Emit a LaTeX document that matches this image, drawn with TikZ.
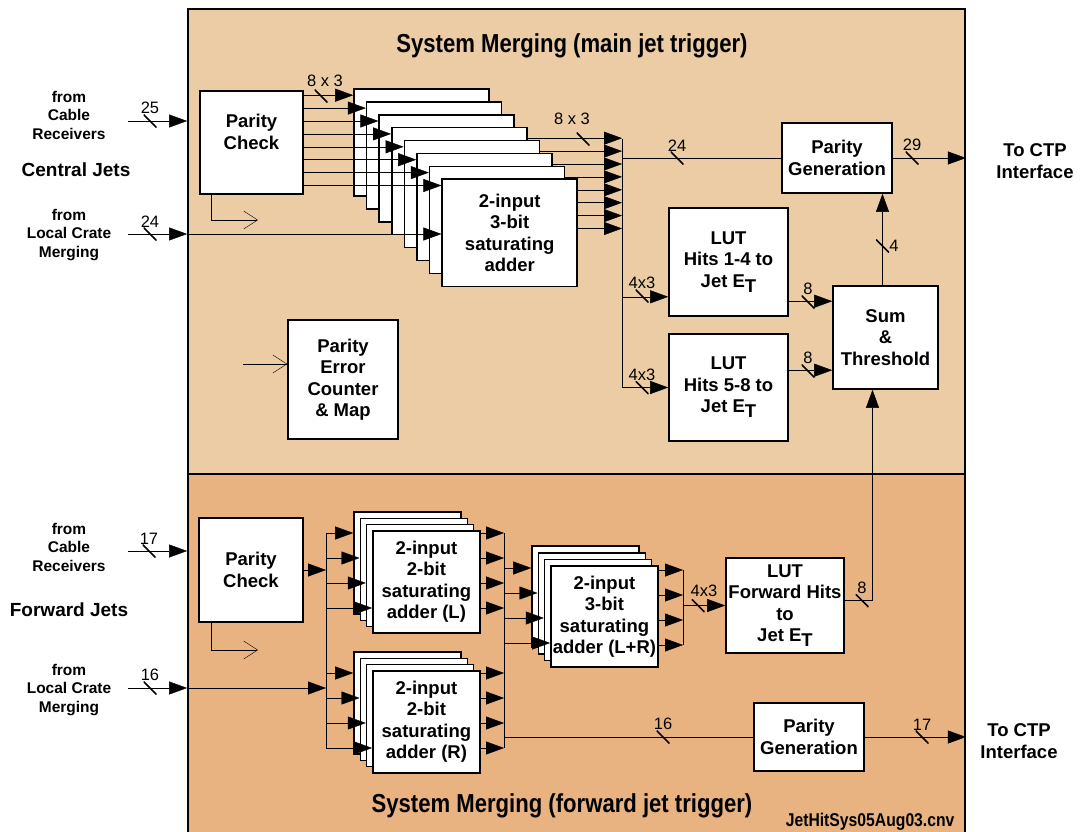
\documentclass[tikz,border=0pt]{standalone}
\usepackage{fontspec}
\setmainfont{Liberation Sans}
\newfontfamily\narrowsf{Liberation Sans}[FakeStretch=0.85]
\usetikzlibrary{arrows.meta, positioning}
\definecolor{maintan}{RGB}{235,204,165}
\definecolor{fwdtan}{RGB}{233,178,129}
\pgfdeclarelayer{panel}
\pgfdeclarelayer{under}
\pgfsetlayers{panel,under,main}
\newcommand{\ET}{E\raisebox{-5pt}{T}}

\begin{document}
\begin{tikzpicture}[
  x=1pt, y=-1pt, line width=1.6pt,
  >={Triangle[length=18pt, width=13pt]},
  opn/.style={-{Straight Barb[length=14pt, width=18pt]}},
  panel/.style={draw, line width=1.8pt, inner sep=0pt},
  box/.style={draw, fill=white, line width=1.6pt, align=center, inner sep=0pt,
              font=\bfseries\fontsize{18.5}{21.5}\selectfont},
  src/.style={align=center, font=\bfseries\fontsize{15.5}{18.5}\selectfont},
  grp/.style={font=\bfseries\fontsize{19}{22}\selectfont},
  ctp/.style={align=center, font=\bfseries\fontsize{18.5}{22}\selectfont},
  ttl/.style={font=\narrowsf\bfseries\fontsize{26}{28}\selectfont},
  tick/.style={inner sep=0pt, minimum size=13pt, label distance=4pt,
               path picture={\draw[line width=1.5pt] (path picture bounding box.north west)
                             -- (path picture bounding box.south east);}},
  every label/.style={font=\fontsize{16.5}{16.5}\selectfont, inner sep=0pt}
]
\useasboundingbox (0,0) rectangle (1080,832);

\begin{pgfonlayer}{panel}
\node[panel, fill=maintan, minimum width=777pt, minimum height=465pt] (ptop) at (576.5,241.5) {};
\node[panel, fill=fwdtan, minimum width=777pt, minimum height=372pt] (pbot) at (576.5,660) {};
\end{pgfonlayer}

% titles and side labels
\node[ttl] (ttop) at (572,46) {System Merging (main jet trigger)};
\node[ttl] (tbot) at (562,806) {System Merging (forward jet trigger)};
\node[font=\narrowsf\bfseries\fontsize{18.5}{20}\selectfont, anchor=east] (fname) at (958,822) {JetHitSys05Aug03.cnv};

\node[src] (cab1) at (69,115) {from\\Cable\\Receivers};
\node[grp] (cjet) at (76,170) {Central Jets};
\node[src] (lcm1) at (69,235) {from\\Local Crate\\Merging};
\node[src] (cab2) at (69,547) {from\\Cable\\Receivers};
\node[grp] (fjet) at (69,610) {Forward Jets};
\node[src] (lcm2) at (69,690) {from\\Local Crate\\Merging};
\node[ctp] (ctp1) at (1035,161) {To CTP\\Interface};
\node[ctp] (ctp2) at (1019,741) {To CTP\\Interface};

% main jet trigger
\node[box, minimum width=103pt, minimum height=103pt] (pc1) at (251.5,142.5) {Parity\\Check\\\mbox{}};
\node[box, minimum width=110pt, minimum height=119pt] (pec) at (343,379.5) {Parity\\Error\\Counter\\\& Map};
\foreach \k in {0,...,6}
  \node[box, minimum width=135pt, minimum height=107pt] (add\k) at ({421.5+12.6*\k},{142.5+12.9*\k}) {};
\node[box, minimum width=135pt, minimum height=107pt] (add7) at (509.7,232.8) {2-input\\3-bit\\saturating\\adder};
\node[box, minimum width=110pt, minimum height=70pt] (pg1) at (837,158) {Parity\\Generation};
\node[box, minimum width=119pt, minimum height=108pt] (lut1) at (728.5,262) {LUT\\Hits 1-4 to\\Jet \ET};
\node[box, minimum width=119pt, minimum height=107pt] (lut2) at (728.5,387.5) {LUT\\Hits 5-8 to\\Jet \ET};
\node[box, minimum width=105pt, minimum height=103pt] (sum) at (885.5,337.5) {Sum\\\&\\Threshold};

% forward jet trigger
\node[box, minimum width=104pt, minimum height=104pt] (pc2) at (251,570) {Parity\\Check};
\foreach \k in {0,...,2} {
  \node[box, minimum width=107pt, minimum height=102pt] (addL\k) at ({407.5+6.3*\k},{563+6.3*\k}) {};
}
\node[box, minimum width=107pt, minimum height=102pt] (addL3) at (426.4,581.9) {2-input\\2-bit\\saturating\\adder (L)};
\foreach \k in {0,...,2} {
  \node[box, minimum width=107pt, minimum height=102pt] (addR\k) at ({407.5+6.3*\k},{703+6.3*\k}) {};
}
\node[box, minimum width=107pt, minimum height=102pt] (addR3) at (426.4,721.9) {2-input\\2-bit\\saturating\\adder (R)};
\foreach \k in {0,...,2} {
  \node[box, minimum width=107pt, minimum height=101pt] (addLR\k) at ({585.5+6.3*\k},{596.5+6.7*\k}) {};
}
\node[box, minimum width=107pt, minimum height=101pt] (addLR3) at (604.4,616.6) {2-input\\3-bit\\saturating\\adder (L+R)};
\node[box, minimum width=118pt, minimum height=95pt] (lutf) at (785,605.5) {LUT\\Forward Hits\\to\\Jet \ET};
\node[box, minimum width=110pt, minimum height=68pt] (pg2) at (809,737) {Parity\\Generation};

\coordinate (in1) at (128,121);
\coordinate (in2) at (128,234);
\coordinate (in3) at (128,551);
\coordinate (in4) at (128,688);
\coordinate (bus1) at (622,139);
\coordinate (bus2) at (326,533);
\coordinate (bus3) at (504,533);
\coordinate (bus4) at (683,570);
\coordinate (perin) at (243,364);
\coordinate (pcout1) at (258,220);
\coordinate (pcout2) at (258,650);

% main connectors
\draw[->] (in1) -- (in1 -| ptop.west);
\draw[->] (in2) -- (in2 -| ptop.west);
\draw[->] (in2 -| ptop.west) -- (in2 -| add7.west);
\foreach \k in {0,...,7} {
  \coordinate (a\k) at ([yshift=-7pt]add\k.north west);
  \draw[->] (pc1.east |- a\k) -- (a\k);
}
\begin{pgfonlayer}{under}
\foreach \j in {0,...,7} {
  \coordinate (o\j) at ([yshift=-50pt]add\j.north east);
  \draw[->] (o\j) -- (o\j -| bus1);
}
\end{pgfonlayer}
\draw (bus1) -- (bus1 |- lut2.west);
\draw (bus1 |- pg1.west) -- (pg1.west);
\coordinate (l1in) at ([yshift=20pt]lut1.south west);
\draw[->] (bus1 |- l1in) -- (l1in);
\draw[->] (bus1 |- lut2.west) -- (lut2.west);
\draw[->] (pg1.east) -- (pg1.east -| ptop.east);
\coordinate (s1in) at ([yshift=-16pt]sum.north west);
\coordinate (s2in) at ([yshift=-85pt]sum.north west);
\draw[->] (lut1.east |- s1in) -- (s1in);
\draw[->] (lut2.east |- s2in) -- (s2in);
\coordinate (sumtop) at ([xshift=-3pt]sum.north);
\coordinate (sumbot) at ([xshift=-13pt]sum.south);
\coordinate (lfout) at ([yshift=5pt]lutf.east);
\draw[->] (sumtop) -- (sumtop |- pg1.south);
\draw[->] (lfout) -| (sumbot);
\draw[opn] ([xshift=12pt]pc1.south west) |- (pcout1);
\draw[opn] (perin) -- (perin -| pec.west);

% forward connectors
\draw[->] (in3) -- (in3 -| pbot.west);
\draw[->] (in4) -- (in4 -| pbot.west);
\draw[->] (in4 -| pbot.west) -- (in4 -| bus2);
\draw[->] (pc2.east) -- (pc2.east -| bus2);
\draw (bus2) -- ++(0,215);
\foreach \k/\y in {0/533,1/558,2/583,3/608}
  \draw[->] (bus2 |- 0,\y) -- (addL\k.west |- 0,\y);
\foreach \k/\y in {0/673,1/698,2/723,3/748}
  \draw[->] (bus2 |- 0,\y) -- (addR\k.west |- 0,\y);
\foreach \y in {533,558,583,608}
  \draw[->] (addL3.east |- 0,\y) -- (bus3 |- 0,\y);
\foreach \y in {673,698,723,748}
  \draw[->] (addR3.east |- 0,\y) -- (bus3 |- 0,\y);
\draw (bus3) -- ++(0,215);
\foreach \k/\y in {0/568,1/593,2/618,3/643}
  \draw[->] (bus3 |- 0,\y) -- (addLR\k.west |- 0,\y);
\foreach \y in {570,595,620,645}
  \draw[->] (addLR3.east |- 0,\y) -- (bus4 |- 0,\y);
\draw (bus4) -- ++(0,75);
\draw[->] (bus4 |- lutf.west) -- (lutf.west);
\draw (bus3 |- pg2.west) -- (pg2.west);
\draw[->] (pg2.east) -- (pg2.east -| pbot.east);
\draw[opn] ([xshift=13pt]pc2.south west) |- (pcout2);

% bus widths
\node[tick, label=above:25] (k1) at (150,121) {};
\node[tick, label=above:24] (k2) at (150,234) {};
\node[tick, label={[xshift=4pt, yshift=2pt]above:8 x 3}] (k3) at (321,96) {};
\node[tick, label={[xshift=-11pt, yshift=7pt]above:8 x 3}] (k4) at (583,139) {};
\node[tick, label=above:24] (k5) at (677,158) {};
\node[tick, label=above:29] (k6) at (912,158) {};
\node[tick, label=above:4x3] (k7) at (642,296) {};
\node[tick, label=above:4x3] (k8) at (642,387.5) {};
\node[tick, label=above:8] (k9) at (808,302) {};
\node[tick, label=above:8] (k10) at (808,371) {};
\node[tick, label=right:4] (k11) at (882.5,246) {};
\node[tick, label=above:8] (k12) at (862,600.5) {};
\node[tick, label=above:17] (k13) at (149,551) {};
\node[tick, label=above:16] (k14) at (150,688) {};
\node[tick, label=above:16] (k15) at (663,737) {};
\node[tick, label=above:17] (k16) at (922,737) {};
\node[tick, label={[xshift=6pt, yshift=2pt]above:4x3}] (k17) at (698,605.5) {};
\end{tikzpicture}
\end{document}
